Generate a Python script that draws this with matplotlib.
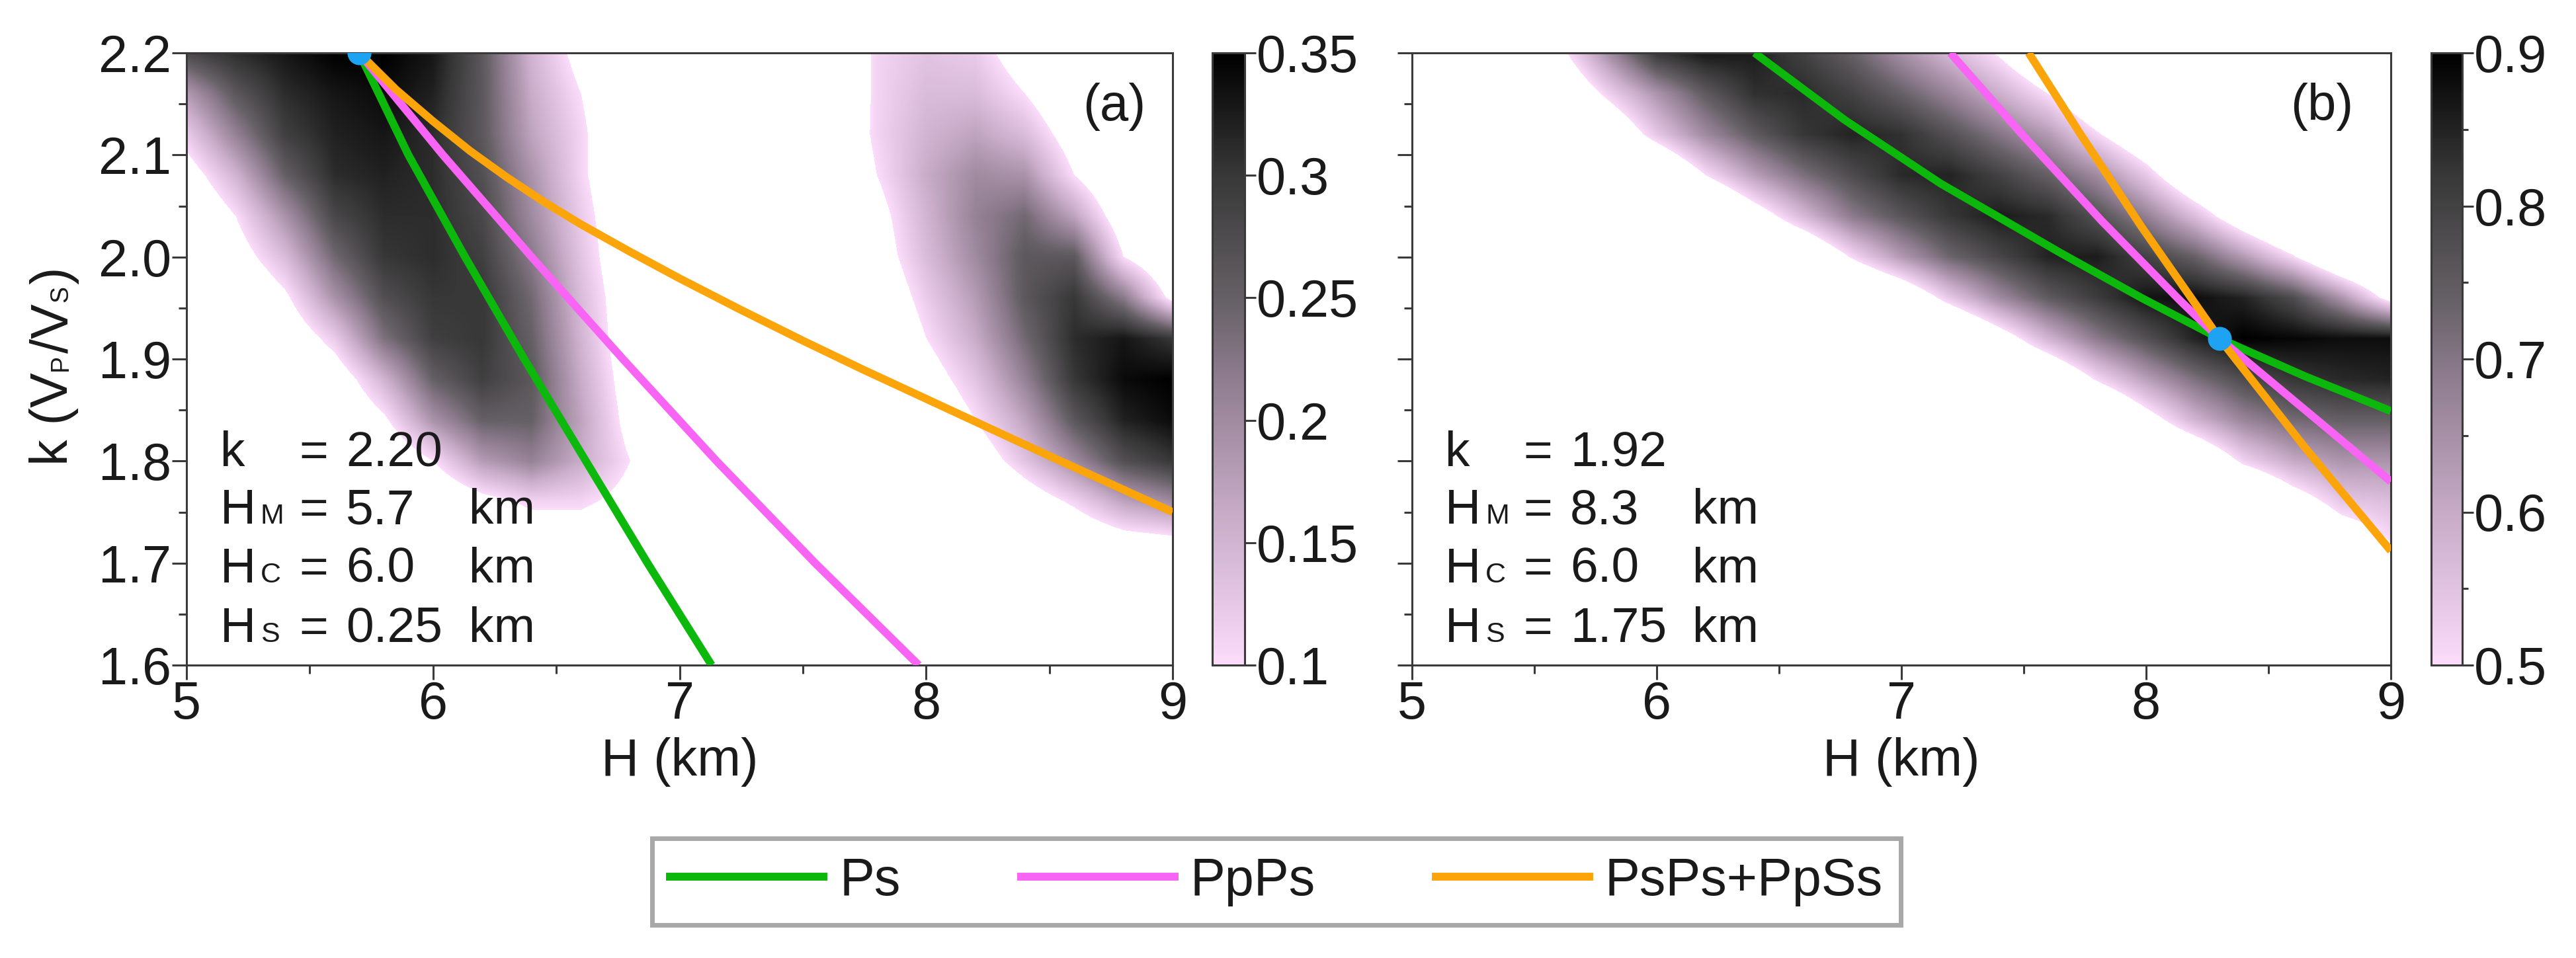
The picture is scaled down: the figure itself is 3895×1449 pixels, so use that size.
import matplotlib
matplotlib.use("Agg")
import matplotlib.pyplot as plt
from matplotlib.colors import LinearSegmentedColormap, Normalize
from matplotlib.lines import Line2D
from matplotlib.ticker import MultipleLocator, FormatStrFormatter

plt.rcParams['font.family'] = ['Liberation Sans', 'DejaVu Sans']

# ---- data ----
# stacking grids: columns = H (km), rows = k from top (2.20) to bottom (1.60), values x100
H_grid = [5.0, 5.2, 5.4, 5.6, 5.8, 6.0, 6.2, 6.4, 6.6, 6.8, 7.0,
          7.2, 7.4, 7.6, 7.8, 8.0, 8.2, 8.4, 8.6, 8.8, 9.0]
k_grid = [2.20, 2.16, 2.12, 2.08, 2.04, 2.00, 1.96, 1.92,
          1.88, 1.84, 1.80, 1.76, 1.72, 1.68, 1.64, 1.60]

stack_a = [
    [28, 31, 33, 35, 35, 33, 26, 15, 8, 3, 0, 0, 0, 3, 11, 13, 12, 7, 2, 0, 0],
    [18, 26, 31, 33, 34, 32, 26, 16, 10, 4, 0, 0, 0, 3, 11, 14, 14, 10, 4, 0, 0],
    [12, 21, 29, 32, 33, 31, 26, 17, 11, 4, 0, 0, 0, 4, 11, 15, 17, 14, 7, 2, 0],
    [7, 15, 25, 31, 32, 31, 27, 19, 11, 4, 0, 0, 0, 3, 10, 16, 20, 19, 10, 3, 0],
    [3, 10, 19, 28, 31, 31, 28, 20, 12, 5, 0, 0, 0, 2, 8, 15, 21, 24, 17, 6, 1],
    [1, 7, 14, 24, 30, 31, 29, 22, 13, 5, 0, 0, 0, 0, 7, 14, 20, 26, 26, 10, 3],
    [0, 3, 9, 19, 27, 30, 30, 24, 14, 6, 0, 0, 0, 0, 5, 12, 18, 26, 30, 22, 8],
    [0, 1, 5, 12, 23, 29, 30, 25, 15, 6, 0, 0, 0, 0, 3, 10, 16, 24, 31, 33, 30],
    [0, 0, 2, 6, 15, 25, 29, 26, 16, 7, 0, 0, 0, 0, 0, 7, 13, 21, 30, 34, 35],
    [0, 0, 0, 3, 9, 19, 25, 25, 17, 8, 0, 0, 0, 0, 0, 4, 10, 17, 26, 32, 34],
    [0, 0, 0, 0, 4, 10, 18, 21, 16, 10, 3, 0, 0, 0, 0, 0, 6, 13, 20, 27, 30],
    [0, 0, 0, 0, 0, 4, 8, 11, 11, 8, 2, 0, 0, 0, 0, 0, 0, 6, 11, 17, 20],
    [0, 0, 0, 0, 0, 0, 4, 6, 6, 4, 0, 0, 0, 0, 0, 0, 0, 0, 4, 7, 8],
    [0] * 21,
    [0] * 21,
    [0] * 21,
]

stack_b = [
    [30, 30, 30, 47, 65, 82, 87, 86, 80, 74, 65, 57, 49, 38, 30, 30, 30, 30, 30, 30, 30],
    [30, 30, 30, 38, 52, 64, 75, 83, 84, 80, 74, 67, 59, 50, 38, 30, 30, 30, 30, 30, 30],
    [30, 30, 30, 30, 39, 54, 66, 75, 82, 85, 83, 77, 70, 63, 51, 40, 30, 30, 30, 30, 30],
    [30, 30, 30, 30, 30, 34, 50, 62, 71, 78, 84, 85, 80, 74, 66, 54, 39, 30, 30, 30, 30],
    [30, 30, 30, 30, 30, 30, 30, 44, 57, 69, 76, 82, 86, 84, 77, 68, 56, 42, 30, 30, 30],
    [30, 30, 30, 30, 30, 30, 30, 30, 36, 51, 63, 73, 79, 85, 86, 80, 74, 63, 51, 36, 30],
    [30, 30, 30, 30, 30, 30, 30, 30, 30, 30, 39, 54, 66, 75, 81, 87, 88, 85, 78, 64, 46],
    [30, 30, 30, 30, 30, 30, 30, 30, 30, 30, 30, 30, 44, 58, 69, 77, 85, 90, 89, 88, 88],
    [30, 30, 30, 30, 30, 30, 30, 30, 30, 30, 30, 30, 30, 36, 51, 62, 71, 78, 82, 84, 85],
    [30] * 15 + [45, 58, 67, 72, 74, 74],
    [30] * 16 + [37, 52, 60, 64, 64],
    [30] * 18 + [44, 54, 56],
    [30] * 19 + [42, 50],
    [30] * 20 + [40],
    [30] * 21,
    [30] * 21,
]

# moveout curves (H in km, k)
ps_a_H = [5.70, 5.90, 6.13, 6.37, 6.62, 6.87, 7.13]
ps_a_k = [2.20, 2.10, 2.00, 1.90, 1.80, 1.70, 1.60]
ppps_a_H = [5.70, 6.04, 6.40, 6.77, 7.15, 7.55, 7.97]
ppps_a_k = [2.20, 2.10, 2.00, 1.90, 1.80, 1.70, 1.60]
psps_a_H = [5.70, 5.85, 6.00, 6.15, 6.30, 6.45, 6.60, 6.80, 7.00,
            7.25, 7.50, 7.75, 8.00, 8.50, 9.00]
psps_a_k = [2.200, 2.164, 2.133, 2.104, 2.078, 2.054, 2.032, 2.005, 1.979,
            1.948, 1.918, 1.889, 1.861, 1.805, 1.750]

ps_b_H = [6.40, 6.77, 7.16, 7.65, 7.98, 8.30, 8.65, 9.00]
ps_b_k = [2.200, 2.134, 2.072, 2.004, 1.960, 1.920, 1.883, 1.849]
ppps_b_H = [7.20, 7.49, 7.82, 8.14, 8.30, 8.65, 9.00]
ppps_b_k = [2.200, 2.121, 2.035, 1.957, 1.920, 1.850, 1.780]
psps_b_H = [7.52, 7.73, 7.98, 8.30, 8.65, 9.00]
psps_b_k = [2.200, 2.121, 2.030, 1.920, 1.813, 1.712]

best_a = (5.7, 2.20)
best_b = (8.3, 1.92)

ann_a = [("k", "", "2.20", ""), ("H", "M", "5.7", "km"),
         ("H", "C", "6.0", "km"), ("H", "S", "0.25", "km")]
ann_b = [("k", "", "1.92", ""), ("H", "M", "8.3", "km"),
         ("H", "C", "6.0", "km"), ("H", "S", "1.75", "km")]

cbar_ticks_a = [0.1, 0.15, 0.2, 0.25, 0.3, 0.35]
cbar_labels_a = ["0.1", "0.15", "0.2", "0.25", "0.3", "0.35"]
cbar_ticks_b = [0.5, 0.6, 0.7, 0.8, 0.9]
cbar_labels_b = ["0.5", "0.6", "0.7", "0.8", "0.9"]

series_names = ["Ps", "PpPs", "PsPs+PpSs"]
series_colors = ["#0cb80c", "#f864f4", "#fca50a"]

# ---- layout ----
W, HT = 3895, 1449
fig = plt.figure(figsize=(W / 100, HT / 100), dpi=100)


def box(x0, x1, y0, y1):
    return [x0 / W, 1 - y1 / HT, (x1 - x0) / W, (y1 - y0) / HT]


cmap = LinearSegmentedColormap.from_list(
    "pinkgrey",
    [(0.0, "#fbdcfb"), (0.25, "#c6aac6"), (0.47, "#8e7c8e"),
     (0.6, "#656065"), (0.8, "#383838"), (1.0, "#000000")])
cmap.set_under("white")

FS = 57
SPINE = "#3a3a3a"
TXT = "#1a1a1a"
LW = 8.6

hh = (H_grid[1] - H_grid[0]) / 2
hk = (k_grid[0] - k_grid[1]) / 2
extent = [H_grid[0] - hh, H_grid[-1] + hh, k_grid[-1] - hk, k_grid[0] + hk]


def draw_panel(axbox, caxbox, grid, vmin, vmax, curves, best, ann, tag, tagx,
               cticks, clabels, cminor, show_ylabels):
    ax = fig.add_axes(axbox)
    cax = fig.add_axes(caxbox)
    vals = [[v / 100 for v in row] for row in grid]
    im = ax.imshow(vals, extent=extent, origin="upper", aspect="auto",
                   cmap=cmap, norm=Normalize(vmin, vmax),
                   interpolation="bilinear", interpolation_stage="data")
    for (hs, ks), c in zip(curves, series_colors):
        ax.plot(hs, ks, color=c, lw=LW, solid_capstyle="butt",
                solid_joinstyle="round", zorder=3)
    ax.plot([best[0]], [best[1]], "o", color="#1ea2f2", ms=26, mec="none", zorder=4)
    ax.set_xlim(5, 9)
    ax.set_ylim(1.6, 2.2)

    ax.xaxis.set_major_locator(MultipleLocator(1))
    ax.xaxis.set_minor_locator(MultipleLocator(0.5))
    ax.yaxis.set_major_locator(MultipleLocator(0.1))
    ax.yaxis.set_minor_locator(MultipleLocator(0.05))
    ax.yaxis.set_major_formatter(FormatStrFormatter("%.1f"))
    ax.tick_params(which="major", direction="out", length=15.5, width=2.2,
                   color=SPINE, labelsize=FS, labelcolor=TXT, pad=1)
    ax.tick_params(which="minor", direction="out", length=9, width=2.2, color=SPINE)
    if not show_ylabels:
        ax.tick_params(axis="y", labelleft=False)
    for s in ax.spines.values():
        s.set_color(SPINE)
        s.set_linewidth(2.2)

    ax.set_xlabel("H (km)", fontsize=FS, color=TXT)
    ax.xaxis.set_label_coords(0.5, -0.118)

    ax.text(tagx, 0.951, tag, transform=ax.transAxes, ha="right", va="top",
            fontsize=56, color=TXT)

    # parameter block: name, small subscript, '=', value, unit
    cols = [0.034, 0.0751, 0.114, 0.1616, 0.2864]
    rows = [0.325, 0.231, 0.135, 0.038]
    for (name, sub, val, unit), y in zip(ann, rows):
        ax.text(cols[0], y, name, transform=ax.transAxes, fontsize=54,
                color=TXT, va="baseline")
        if sub:
            ax.text(cols[1], y, sub, transform=ax.transAxes, fontsize=31,
                    color=TXT, va="baseline")
        ax.text(cols[2], y, "=", transform=ax.transAxes, fontsize=54,
                color=TXT, va="baseline")
        ax.text(cols[3], y, val, transform=ax.transAxes, fontsize=54,
                color=TXT, va="baseline")
        if unit:
            ax.text(cols[4], y, unit, transform=ax.transAxes, fontsize=54,
                    color=TXT, va="baseline")

    cb = fig.colorbar(im, cax=cax, ticks=cticks)
    cb.ax.set_yticklabels(clabels)
    cb.outline.set_edgecolor(SPINE)
    cb.outline.set_linewidth(2.2)
    cb.ax.tick_params(which="major", direction="out", length=12, width=2.2,
                      color=SPINE, labelsize=FS, labelcolor=TXT, pad=1)
    if cminor:
        cb.ax.yaxis.set_minor_locator(MultipleLocator(cminor))
        cb.ax.tick_params(which="minor", direction="out", length=6.5,
                          width=2.2, color=SPINE)
    else:
        cb.ax.minorticks_off()
    return ax


curves_a = [(ps_a_H, ps_a_k), (ppps_a_H, ppps_a_k), (psps_a_H, psps_a_k)]
curves_b = [(ps_b_H, ps_b_k), (ppps_b_H, ppps_b_k), (psps_b_H, psps_b_k)]

ax_a = draw_panel(box(282, 1773, 80, 1006), box(1833, 1882, 80, 1006), stack_a,
                  0.1, 0.35, curves_a, best_a, ann_a, "(a)", 0.973,
                  cbar_ticks_a, cbar_labels_a, None, True)
ax_b = draw_panel(box(2135, 3615, 80, 1006), box(3676, 3723, 80, 1006), stack_b,
                  0.5, 0.9, curves_b, best_b, ann_b, "(b)", 0.962,
                  cbar_ticks_b, cbar_labels_b, 0.05, False)

# y label with small-cap style subscripts sitting on the baseline
renderer = fig.canvas.get_renderer()
parts = [("k (V", FS), ("P", 27), ("/V", FS), ("S", 27), (")", FS)]
pieces = []
for s, size in parts:
    t = fig.text(0, 0, s, fontsize=size, color=TXT, rotation=90,
                 rotation_mode="anchor", ha="left", va="baseline")
    pieces.append((t, t.get_window_extent(renderer).height))
total = sum(h for _, h in pieces)
ypos = 891 - total / 2
for t, h in pieces:
    t.set_position((102 / W, ypos / HT))
    ypos += h + 2

handles = [Line2D([], [], color=c, lw=LW) for c in series_colors]
leg = fig.legend(handles, series_names, loc="center",
                 bbox_to_anchor=(0.4955, 0.0797), ncol=3, fontsize=FS,
                 handlelength=2.93, handletextpad=0.3, columnspacing=2.3,
                 borderpad=0.35, fancybox=False, framealpha=1)
leg.get_frame().set_edgecolor("#a8a8a8")
leg.get_frame().set_linewidth(5)
for t in leg.get_texts():
    t.set_color(TXT)

fig.savefig("out.png", dpi=100)
